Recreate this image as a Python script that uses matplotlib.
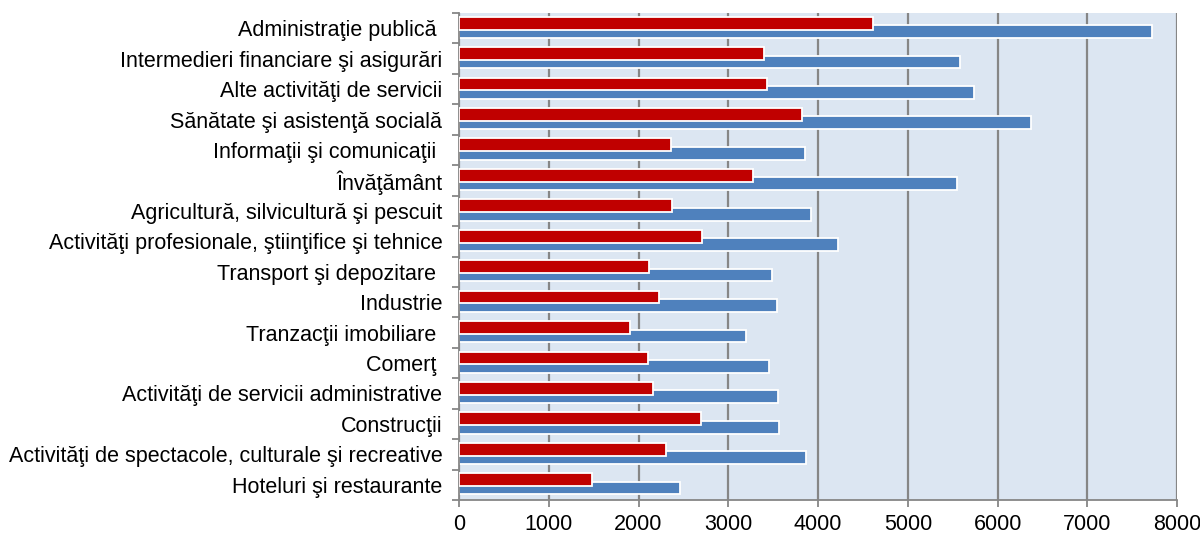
import numpy as np
import matplotlib
matplotlib.use("Agg")
import matplotlib.pyplot as plt

plt.rcParams['font.family'] = ['Liberation Sans', 'DejaVu Sans']

# categories, top to bottom as shown
categories = [
    "Administraţie publică ",
    "Intermedieri financiare şi asigurări",
    "Alte activităţi de servicii",
    "Sănătate şi asistenţă socială",
    "Informaţii şi comunicaţii ",
    "Învăţământ",
    "Agricultură, silvicultură şi pescuit",
    "Activităţi profesionale, ştiinţifice şi tehnice",
    "Transport şi depozitare ",
    "Industrie",
    "Tranzacţii imobiliare ",
    "Comerţ ",
    "Activităţi de servicii administrative",
    "Construcţii",
    "Activităţi de spectacole, culturale şi recreative",
    "Hoteluri şi restaurante",
]

# red series (shorter, drawn on top)
red_values = [4614, 3396, 3433, 3820, 2357, 3274, 2375, 2703,
              2112, 2227, 1904, 2101, 2157, 2700, 2305, 1485]
# blue series
blue_values = [7724, 5579, 5731, 6366, 3853, 5549, 3916, 4217,
               3486, 3545, 3192, 3457, 3549, 3568, 3866, 2464]

x_ticks = [0, 1000, 2000, 3000, 4000, 5000, 6000, 7000, 8000]

RED = '#C00000'
BLUE = '#4F81BD'
GRID = '#868686'

fig = plt.figure(figsize=(12, 5.33), dpi=100)
ax = fig.add_axes([0.3825, 0.062, 0.5985, 0.9135])
ax.set_facecolor('#DCE6F2')

pos = np.arange(len(categories))
h = 0.42
ax.barh(pos + 0.109, blue_values, height=h, color=BLUE,
        edgecolor='white', linewidth=1.3, zorder=2)
ax.barh(pos - 0.168, red_values, height=h, color=RED,
        edgecolor='white', linewidth=1.3, zorder=3)

ax.set_xlim(0, 8000)
ax.set_ylim(len(categories) - 0.5, -0.5)

# x axis
ax.set_xticks(x_ticks)
ax.set_xticklabels([str(v) for v in x_ticks], fontsize=15.5)
ax.xaxis.grid(True, color=GRID, linewidth=1.6, zorder=1)
ax.set_axisbelow(True)
ax.tick_params(axis='x', direction='out', length=5, color=GRID, width=1.3, pad=5)

# y axis: labels at centers, tick marks at boundaries
ax.set_yticks(pos)
ax.set_yticklabels(categories, fontsize=15.5)
ax.set_yticks(np.arange(-0.5, len(categories), 1), minor=True)
ax.tick_params(axis='y', which='major', length=0, pad=12)
ax.tick_params(axis='y', which='minor', direction='out', length=5,
               color=GRID, width=1.3)

for side in ['top', 'right']:
    ax.spines[side].set_visible(False)
for side in ['left', 'bottom']:
    ax.spines[side].set_color(GRID)
    ax.spines[side].set_linewidth(1.3)

fig.savefig('out.png', dpi=100)
